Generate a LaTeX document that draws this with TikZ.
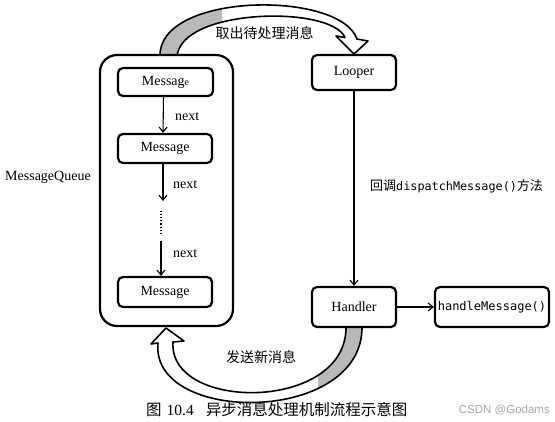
\documentclass[tikz,border=0pt]{standalone}
\usepackage{fontspec}
\setmainfont{Liberation Serif}
\newfontfamily\cjk{Noto Sans CJK SC}
\newfontfamily\monof{DejaVu Sans Mono}
\newfontfamily\wmfont{Liberation Sans}
\usetikzlibrary{arrows.meta}
\begin{document}
\begin{tikzpicture}[x=1pt,y=-1pt,
  box/.style={draw, fill=white, line width=2.2pt, rounded corners=5pt, inner sep=0pt, font=\fontsize{14}{16}\selectfont},
  lbl/.style={font=\fontsize{14}{16}\selectfont, inner sep=0pt},
  arr/.style={-{Straight Barb[length=5pt,width=8pt,line width=1.1pt]}, line width=1.1pt},
  ribbon/.style={line width=1.6pt, line join=round},
  shade/.style={fill=gray!55}]
\useasboundingbox (0,0) rectangle (555,421);
% top ribbon arrow
\begin{scope}
\clip (0,0) rectangle (222,60);
\fill[shade] (160,57) .. controls (157,-8) and (340,-10) .. (357,39) -- (368,41) -- (354,54) -- (336,36) -- (345,37.5) .. controls (331,5) and (180,8) .. (177,57) -- cycle;
\end{scope}
\draw[ribbon] (160,57) .. controls (157,-8) and (340,-10) .. (357,39) -- (368,41) -- (354,54) -- (336,36) -- (345,37.5) .. controls (331,5) and (180,8) .. (177,57);
% bottom ribbon arrow
\begin{scope}
\clip (318,320) rectangle (380,421);
\fill[shade] (362,326) .. controls (364,425) and (150,425) .. (158,343) -- (151,344) -- (166,328) -- (184,341) -- (173,342) .. controls (168,412) and (348,412) .. (346,326) -- cycle;
\end{scope}
\draw[ribbon] (362,326) .. controls (364,425) and (150,425) .. (158,343) -- (151,344) -- (166,328) -- (184,341) -- (173,342) .. controls (168,412) and (348,412) .. (346,326);
% container
\node[box, rounded corners=17pt, minimum width=133pt, minimum height=271pt] (queue) at (166.5,190.5) {};
\node[box, minimum width=95pt, minimum height=28pt] (m1) at (165.5,82) {Messag{\fontsize{10}{10}\selectfont e}};
\node[box, minimum width=94pt, minimum height=29pt] (m2) at (165,148.5) {Message};
\node[box, minimum width=94pt, minimum height=30pt] (m3) at (165,292) {Message};
\node[box, minimum width=84pt, minimum height=35pt] (looper) at (354,72.5) {Looper};
\node[box, minimum width=84pt, minimum height=40pt] (handler) at (354,307) {Handler};
\node[box, minimum width=114pt, minimum height=40pt, font=\monof\fontsize{12}{14}\selectfont] (hm) at (492,307) {handleMessage()};
% chain arrows
\coordinate (c1) at (163,201);
\coordinate (d1) at (161,211);
\coordinate (d2) at (161,234);
\coordinate (c2) at (161,241);
\draw[arr] ([xshift=-2pt]m1.south) -- ([xshift=-2pt]m2.north);
\draw[arr] ([xshift=-2pt]m2.south) -- (c1);
\draw[line width=1.1pt, dotted] (d1) -- (d2);
\draw[arr] (c2) -- (m3.north -| c2);
\node[lbl, anchor=west] (n1) at (175,117) {next};
\node[lbl, anchor=west] (n2) at (173,185) {next};
\node[lbl, anchor=west] (n3) at (173,254) {next};
\node[lbl, anchor=west] (mq) at (5,177) {MessageQueue};
% looper/handler
\draw[arr] (looper) -- (handler);
\draw[arr] (handler) -- (hm);
\node[lbl, anchor=west] (disp) at (370,186) {{\cjk\fontsize{13}{15}\selectfont 回调}{\monof\fontsize{11.8}{14}\selectfont dispatchMessage()}{\cjk\fontsize{13}{15}\selectfont 方法}};
\node[lbl, font=\cjk\fontsize{14}{16}\selectfont] (take) at (264.5,33) {取出待处理消息};
\node[lbl, font=\cjk\fontsize{14}{16}\selectfont] (send) at (261,357) {发送新消息};
% caption
\node[lbl, anchor=west, font=\fontsize{15.5}{18}\selectfont] (cap) at (146,410) {{\cjk 图}\hspace{5pt}10.4\hspace{12pt}{\cjk 异步消息处理机制流程示意图}};
\node[lbl, anchor=east, font=\wmfont\fontsize{11.5}{13}\selectfont, text=gray!70] (wm) at (550,410) {CSDN @Godams};
\end{tikzpicture}
\end{document}
